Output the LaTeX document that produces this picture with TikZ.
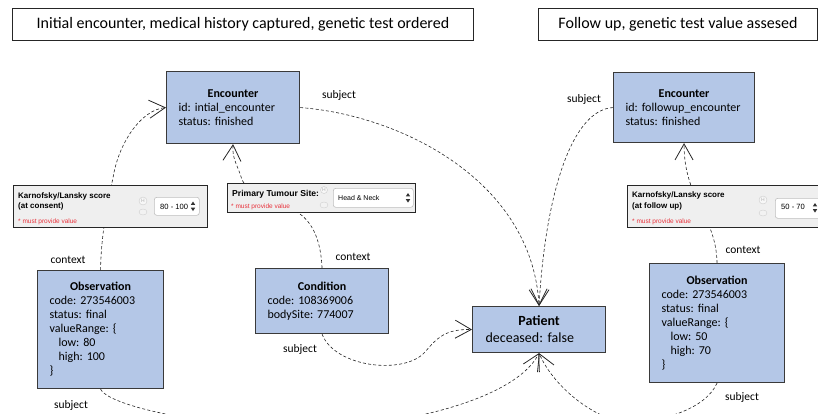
\documentclass[tikz,border=0pt]{standalone}
\usepackage{fontspec}
\setmainfont{Carlito}
\newfontfamily\wfont{Liberation Sans}
\usetikzlibrary{arrows.meta,shapes.geometric}
\definecolor{boxfill}{HTML}{B4C7E7}
\definecolor{boxline}{HTML}{3A3A3A}
\definecolor{wfill}{HTML}{EFEFEF}
\definecolor{reqred}{HTML}{E8303A}
\newcommand\ddarrows[3]{% x, top y
  \fill[black!80] (#1,#2) -- (#1+2.2,#2+3.4) -- (#1-2.2,#2+3.4) -- cycle;
  \fill[black!80] (#1-2.2,#2+6.2) -- (#1+2.2,#2+6.2) -- (#1,#2+9.6) -- cycle;}
\begin{document}
\frenchspacing
\begin{tikzpicture}[x=1pt,y=-1pt,
  execute at begin node={\frenchspacing\hyphenpenalty=10000\exhyphenpenalty=10000},
  res/.style={draw=boxline,fill=boxfill,line width=1.1pt,anchor=north west,inner xsep=12pt,inner ysep=0pt,align=left,font=\fontsize{12}{14}\selectfont},
  titlebox/.style={draw=black!85,line width=0.9pt,anchor=north west,inner sep=0pt,font=\fontsize{16}{18}\selectfont},
  lbl/.style={inner sep=0pt,font=\fontsize{11.5}{13}\selectfont},
  link/.style={draw=black!85,line width=0.6pt,dash pattern=on 3pt off 2.2pt,-{Straight Barb[length=16pt,width=18pt,line width=0.8pt]}},
  widget/.style={draw=black!85,line width=1.3pt,fill=wfill,anchor=north west,inner sep=0pt},
  wtxt/.style={inner sep=0pt,anchor=base west,font=\wfont\bfseries\fontsize{8}{10}\selectfont},
  wreq/.style={inner sep=0pt,anchor=base west,text=reqred,font=\wfont\fontsize{6.5}{8}\selectfont},
  dd/.style={draw=black!25,fill=white,rounded corners=2.5pt,line width=0.6pt,anchor=north west,inner sep=0pt},
  ddtxt/.style={inner sep=0pt,anchor=base west,font=\wfont\fontsize{7.6}{9}\selectfont},
  helpH/.style={circle,draw=black!20,fill=black!3,inner sep=0pt,minimum size=8pt,text=black!30,font=\wfont\fontsize{5}{5}\selectfont},
  bubble/.style={ellipse,draw=black!18,fill=black!5,inner sep=0pt,minimum width=8pt,minimum height=6pt},
]
\useasboundingbox (0,0) rectangle (818,413);
\clip (0,0) rectangle (818,413);

% titles
\node[titlebox,minimum width=461pt,minimum height=32pt] (t1) at (12,8) {Initial encounter, medical history captured, genetic test ordered};
\node[titlebox,minimum width=279pt,minimum height=32pt] (t2) at (538,8) {Follow up, genetic test value assesed};

% resources
\node[res,text width=109pt,minimum height=72pt] (enc1) at (166,71)
  {\makebox[\hsize]{\bfseries Encounter}\\id: intial\_encounter\\status: finished};
\node[res,text width=117pt,minimum height=70pt] (enc2) at (613,72)
  {\makebox[\hsize]{\bfseries Encounter}\\\mbox{id: followup\_encounter}\\status: finished};
\node[res,text width=102pt,minimum height=118pt] (obs1) at (37,270)
  {\makebox[\hsize]{\bfseries Observation}\\code: 273546003\\status: final\\valueRange: \{\\\hspace*{9pt}low: 80\\\hspace*{9pt}high: 100\\\}};
\node[res,text width=111pt,minimum height=119pt] (obs2) at (649,263)
  {\makebox[\hsize]{\bfseries Observation}\\code: 273546003\\status: final\\valueRange: \{\\\hspace*{9pt}low: 50\\\hspace*{9pt}high: 70\\\}};
\node[res,text width=109pt,minimum height=65pt] (cond) at (255,268)
  {\makebox[\hsize]{\bfseries Condition}\\code: 108369006\\bodySite: 774007};
\node[res,text width=107pt,inner xsep=13pt,minimum height=46pt,font=\fontsize{14}{17}\selectfont] (pat) at (472,306)
  {\makebox[\hsize]{\bfseries Patient}\\deceased: false};

% labels
\node[lbl] (l1) at (339,95) {subject};
\node[lbl] (l2) at (584,99) {subject};
\node[lbl] (l3) at (68,260) {context};
\node[lbl] (l4) at (71,405) {subject};
\node[lbl] (l5) at (353,257) {context};
\node[lbl] (l6) at (300,349) {subject};
\node[lbl] (l7) at (743,250) {context};
\node[lbl] (l8) at (742,397) {subject};

% connectors
\draw[link] (obs1.north) .. controls (101,235) and (108,200) .. (113,178)
   .. controls (118,145) and (140,110) .. (enc1.west);
\draw[link] (cond.north) .. controls (321,245) and (315,225) .. (300,214)
   .. controls (285,203) and (250,195) .. (242,180)
   .. controls (238,165) and (232,160) .. (enc1.south);
\draw[link] (enc1.east) .. controls (400,115) and (532,180) .. (pat.north);
\draw[link] (enc2.west) .. controls (570,110) and (545,200) .. (pat.north);
\draw[link] (obs2.north) .. controls (716,215) and (684,200) .. (enc2.south);
\draw[link] (cond.south) .. controls (335,368) and (405,375) .. (425,352)
   .. controls (437,338) and (445,329) .. (pat.west);
\draw[link] (obs1.south) .. controls (110,408) and (220,428) .. (300,428)
   .. controls (400,428) and (515,400) .. (pat.south);
\draw[link] (obs2.south) .. controls (705,410) and (660,422) .. (628,422)
   .. controls (600,422) and (555,390) .. (pat.south);

% widget 1
\node[widget,minimum width=194pt,minimum height=42pt] (w1) at (13,185) {};
\node[wtxt] (w1a) at (18,198) {Karnofsky/Lansky score};
\node[wtxt] (w1b) at (18,208) {(at consent)};
\node[wreq] (w1r) at (18,223) {* must provide value};
\node[helpH] (w1h) at (143,201) {H};
\node[bubble] (w1c) at (143,212) {};
\node[dd,minimum width=45pt,minimum height=18pt] (w1d) at (154,197) {};
\node[ddtxt] (w1v) at (160,209) {80 - 100};
\ddarrows{193}{201.5}{}

% widget 2
\node[widget,minimum width=188pt,minimum height=29pt] (w2) at (227,183) {};
\node[wtxt,font=\wfont\bfseries\fontsize{8.6}{10}\selectfont] (w2a) at (232,196) {Primary Tumour Site:};
\node[wreq] (w2r) at (231,208) {* must provide value};
\node[helpH,minimum size=7pt] (w2h) at (324,190) {H};
\node[bubble] (w2c) at (324,205) {};
\node[dd,minimum width=80pt,minimum height=19pt] (w2d) at (333,188) {};
\node[ddtxt,font=\wfont\fontsize{7}{9}\selectfont] (w2v) at (338,200.5) {Head \& Neck};
\ddarrows{408}{193}{}

% widget 3
\node[widget,minimum width=200pt,minimum height=42pt] (w3) at (627,185) {};
\node[wtxt] (w3a) at (632,197.5) {Karnofsky/Lansky score};
\node[wtxt] (w3b) at (632,208) {(at follow up)};
\node[wreq] (w3r) at (632,223) {* must provide value};
\node[helpH] (w3h) at (763,200) {H};
\node[bubble] (w3c) at (763,213) {};
\node[dd,minimum width=55pt,minimum height=20pt] (w3d) at (775,198) {};
\node[ddtxt] (w3v) at (781,209.5) {50 - 70};
\ddarrows{815}{203}{}
\end{tikzpicture}
\end{document}
